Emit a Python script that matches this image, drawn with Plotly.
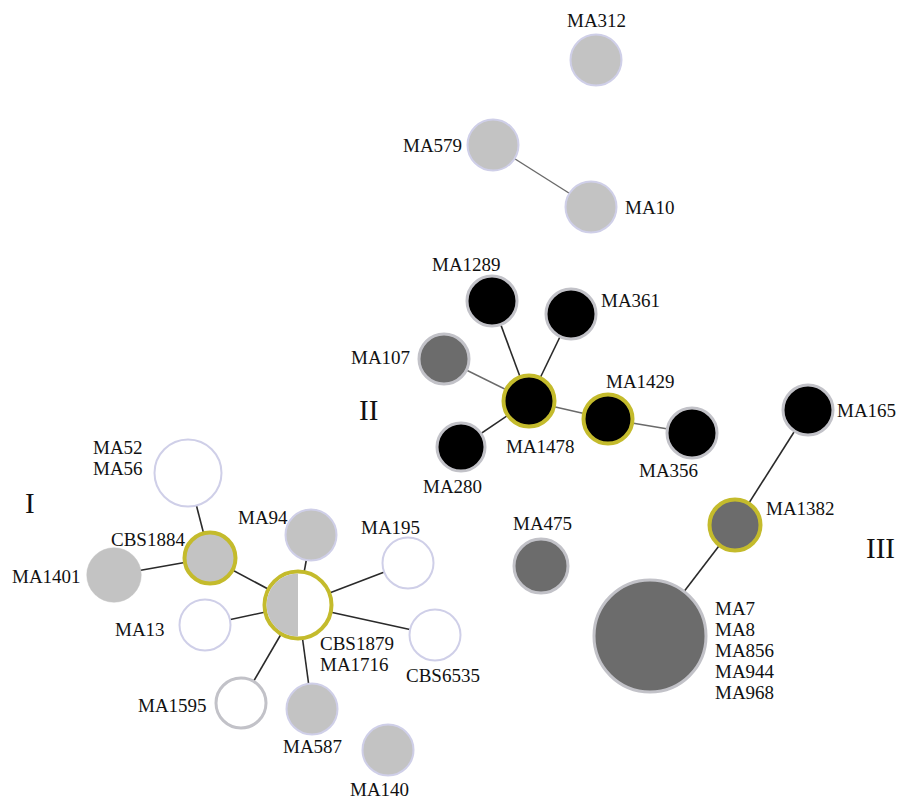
import numpy as np
import plotly.graph_objects as go

# ---------------- data ----------------
node_names = ["MA312", "MA579", "MA10",
              "MA1289", "MA361", "MA107", "MA1478", "MA1429", "MA356", "MA280",
              "MA165", "MA1382", "MA7\nMA8\nMA856\nMA944\nMA968", "MA475",
              "MA52\nMA56", "CBS1884", "MA1401", "MA94", "CBS1879\nMA1716",
              "MA13", "MA195", "CBS6535", "MA1595", "MA587", "MA140"]
node_x = [596, 493, 591,
          492, 571, 444, 529, 608, 692, 461,
          808, 735, 650, 541,
          188, 210, 114, 311, 298,
          205, 408, 435, 241, 312, 388]
node_y = [60, 145, 207,
          301, 314, 359, 401, 419, 433, 447,
          410, 525, 636, 566,
          473, 558, 575, 535, 605,
          625, 563, 635, 703, 709, 750]
node_r = [26, 26, 26,
          26, 26, 26, 27, 26, 26, 25,
          26, 27, 57, 28,
          34, 27, 27, 26, 35,
          26, 26, 26, 26, 26, 26]
# fill group: L light gray, D dark gray, B black, W white, H half light/white
node_fill = ["L", "L", "L",
             "B", "B", "D", "B", "B", "B", "B",
             "B", "D", "D", "D",
             "W", "L", "L", "L", "H",
             "W", "W", "W", "W", "L", "L"]
# border group: v lavender, g gray, y yellow, n none
node_border = ["v", "v", "v",
               "g", "g", "g", "y", "y", "g", "g",
               "g", "y", "g", "g",
               "v", "y", "n", "v", "y",
               "v", "v", "v", "g", "v", "v"]

label_x = [596, 432, 650,
           466, 630, 380, 540, 640, 668, 452,
           866, 800, 713, 542,
           145, 148, 46, 263, 318,
           140, 390, 443, 172, 312, 379]
label_y = [20, 145, 207,
           264, 300, 357, 446, 381, 470, 486,
           410, 508, 608, 523,
           447, 539, 576, 517, 643,
           629, 527, 675, 705, 746, 789]
label_anchor = ["center", "center", "center",
                "center", "center", "center", "center", "center", "center", "center",
                "center", "center", "left", "center",
                "right", "center", "center", "center", "left",
                "center", "center", "center", "center", "center", "center"]

# edges: (from, to, style) style d=dark, l=light
edges = [("MA579", "MA10", "l"),
         ("MA1289", "MA1478", "d"), ("MA361", "MA1478", "d"), ("MA107", "MA1478", "l"),
         ("MA280", "MA1478", "d"), ("MA1478", "MA1429", "l"), ("MA1429", "MA356", "l"),
         ("MA165", "MA1382", "d"), ("MA1382", "MA7\nMA8\nMA856\nMA944\nMA968", "d"),
         ("MA52\nMA56", "CBS1884", "d"), ("MA1401", "CBS1884", "d"),
         ("CBS1884", "CBS1879\nMA1716", "d"), ("MA94", "CBS1879\nMA1716", "d"),
         ("MA195", "CBS1879\nMA1716", "d"), ("CBS6535", "CBS1879\nMA1716", "d"),
         ("MA13", "CBS1879\nMA1716", "d"), ("MA1595", "CBS1879\nMA1716", "d"),
         ("MA587", "CBS1879\nMA1716", "d")]

group_names = ["I", "II", "III"]
group_x = [30, 368, 880]
group_y = [503, 410, 548]

# ---------------- styles ----------------
fill_colors = {"L": "#c3c3c3", "D": "#6c6c6c", "B": "#000000", "W": "#ffffff", "H": "#ffffff"}
border_colors = {"v": "#cfcfe8", "g": "#c2c2c8", "y": "#c4bb2c", "n": "#c3c3c3"}
border_widths = {"v": 2, "g": 3, "y": 4, "n": 0.5}
edge_colors = {"d": "#2a2a2a", "l": "#6a6a6a"}
edge_widths = {"d": 1.6, "l": 1.4}
FONT = "Liberation Serif"

fig = go.Figure()
idx = {n: i for i, n in enumerate(node_names)}

# edges
for a, b, s in edges:
    i, j = idx[a], idx[b]
    fig.add_trace(go.Scatter(x=[node_x[i], node_x[j]], y=[node_y[i], node_y[j]],
                             mode="lines", line=dict(color=edge_colors[s], width=edge_widths[s]),
                             hoverinfo="skip", showlegend=False))

# nodes
sizes = [2 * r - border_widths[b] + 1 for r, b in zip(node_r, node_border)]
fig.add_trace(go.Scatter(
    x=node_x, y=node_y, mode="markers",
    marker=dict(size=sizes,
                color=[fill_colors[f] for f in node_fill],
                line=dict(color=[border_colors[b] for b in node_border],
                          width=[border_widths[b] for b in node_border]),
                opacity=1),
    hovertext=node_names, hoverinfo="text", showlegend=False))

# half-filled node(s)
for i, f in enumerate(node_fill):
    if f == "H":
        ri = node_r[i] - border_widths[node_border[i]] + 0.5
        t = np.linspace(np.pi / 2, 3 * np.pi / 2, 60)
        px = list(node_x[i] + ri * np.cos(t))
        py = list(node_y[i] - ri * np.sin(t))
        fig.add_trace(go.Scatter(x=px + [px[0]], y=py + [py[0]], mode="lines", fill="toself",
                                 fillcolor=fill_colors["L"], line=dict(width=0, color=fill_colors["L"]),
                                 hoverinfo="skip", showlegend=False))

# labels
LINE = 21
for name, lx, ly, anc in zip(node_names, label_x, label_y, label_anchor):
    for k, line in enumerate(name.split("\n")):
        fig.add_annotation(x=lx, y=ly + k * LINE, text=line, showarrow=False,
                           xanchor=anc, yanchor="middle",
                           font=dict(family=FONT, size=19, color="#111111"))

for g, gx, gy in zip(group_names, group_x, group_y):
    fig.add_annotation(x=gx, y=gy, text=g, showarrow=False, xanchor="center", yanchor="middle",
                       font=dict(family=FONT, size=29, color="#111111"))

fig.update_layout(
    width=900, height=801, margin=dict(l=0, r=0, t=0, b=0),
    paper_bgcolor="white", plot_bgcolor="white",
    xaxis=dict(range=[0, 900], visible=False, fixedrange=True),
    yaxis=dict(range=[801, 0], visible=False, fixedrange=True),
    showlegend=False,
)

fig.write_html("out.html")
